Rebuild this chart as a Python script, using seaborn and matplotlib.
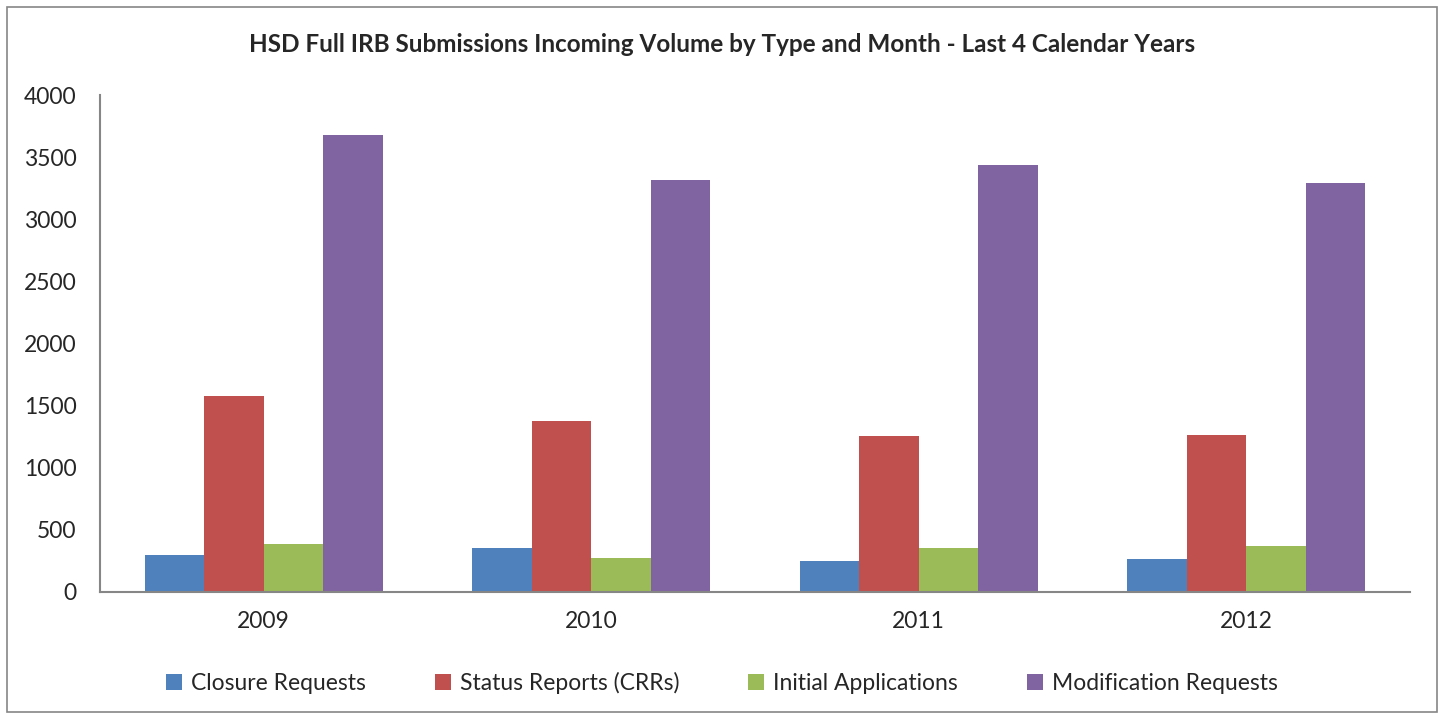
import pandas as pd
import seaborn as sns
import matplotlib.pyplot as plt
from matplotlib.patches import Rectangle

# Datos
years = ["2009", "2010", "2011", "2012"]
closure = [298, 356, 252, 268]
status = [1577, 1373, 1258, 1260]
initial = [386, 271, 354, 373]
modification = [3677, 3317, 3433, 3290]

series_names = ["Closure Requests", "Status Reports (CRRs)", "Initial Applications", "Modification Requests"]
colors = ["#4F81BD", "#C0504D", "#9BBB59", "#8064A2"]

rows = []
for name, vals in zip(series_names, [closure, status, initial, modification]):
    for y, v in zip(years, vals):
        rows.append({"Year": y, "Type": name, "Count": v})
df = pd.DataFrame(rows)

sns.set_style("white")
plt.rcParams['font.family'] = ['Lato', 'DejaVu Sans']

fig = plt.figure(figsize=(14.44, 7.19), dpi=100)
ax = fig.add_axes([100 / 1444, 1 - 592 / 719, 1310 / 1444, 497 / 719])

sns.barplot(data=df, x="Year", y="Count", hue="Type", hue_order=series_names,
            palette=colors, width=0.727, saturation=1, linewidth=0, ax=ax, legend=True)

ax.set_ylim(0, 4000)
ax.set_yticks(range(0, 4001, 500))
ax.set_xlabel("")
ax.set_ylabel("")
ax.tick_params(axis="y", labelsize=16.5, length=0, pad=17)
ax.tick_params(axis="x", labelsize=16.5, length=0, pad=14)
for s in ["top", "right"]:
    ax.spines[s].set_visible(False)
for s in ["left", "bottom"]:
    ax.spines[s].set_color("#868686")
    ax.spines[s].set_linewidth(1.5)

fig.suptitle("HSD Full IRB Submissions Incoming Volume by Type and Month - Last 4 Calendar Years",
             y=1 - 45 / 719, va="center", fontsize=17.5, fontweight="bold")

ax.legend(loc="center", bbox_to_anchor=(0.5, 1 - 683 / 719), bbox_transform=fig.transFigure,
          ncol=4, frameon=False, fontsize=16.5, handlelength=0.7, handleheight=0.7,
          columnspacing=3.0, handletextpad=0.4)

# Borde exterior
fig.patches.append(Rectangle((7 / 1444, 7 / 719), 1430 / 1444, 705 / 719,
                             transform=fig.transFigure, fill=False,
                             edgecolor="#868686", linewidth=1.2))

plt.savefig("out.png", dpi=100)
